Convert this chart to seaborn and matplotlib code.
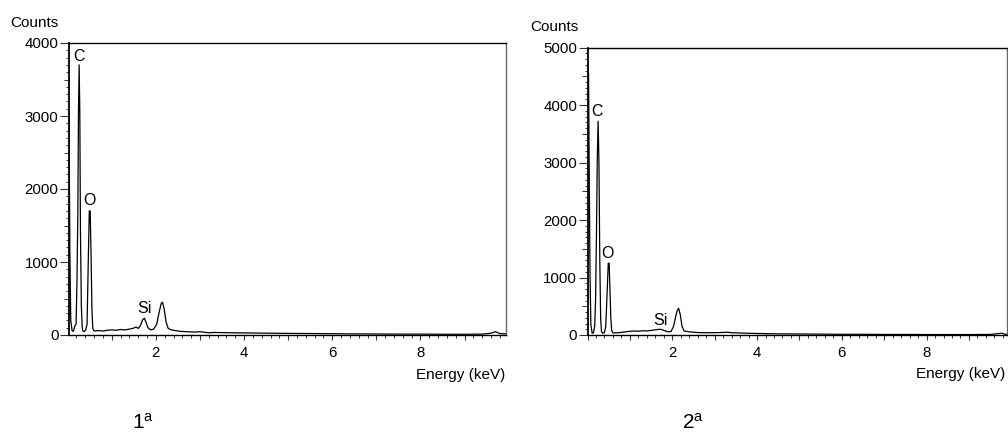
import matplotlib
matplotlib.use("Agg")
import matplotlib.pyplot as plt
import matplotlib.ticker as mticker
import seaborn as sns
import pandas as pd

# ---------------- data ----------------
energy_1 = [0.03, 0.05, 0.07, 0.10, 0.13, 0.16, 0.19, 0.21, 0.23, 0.245, 0.26, 0.275, 0.29, 0.31, 0.33, 0.35,
            0.38, 0.41, 0.44, 0.47, 0.49, 0.51, 0.53, 0.55, 0.57, 0.60,
            0.70, 0.80, 0.90, 1.00, 1.10, 1.20, 1.30, 1.40, 1.50, 1.55, 1.60, 1.65, 1.70, 1.74, 1.78, 1.82,
            1.88, 1.95, 2.02, 2.07, 2.12, 2.15, 2.19, 2.23, 2.28, 2.35, 2.45, 2.55, 2.70, 2.90, 3.00, 3.10,
            3.20, 3.30, 3.50, 3.80, 4.10, 4.50, 5.00, 5.50, 6.00, 6.50, 7.00, 7.50, 8.00, 8.50, 9.00, 9.40,
            9.60, 9.70, 9.80, 9.94]
counts_1 = [3050, 1100, 200, 60, 50, 120, 150, 700, 1650, 3050, 3700, 3050, 1400, 400, 100, 50,
            50, 70, 150, 1100, 1700, 1700, 1100, 350, 90, 55,
            60, 55, 65, 70, 65, 75, 70, 80, 95, 110, 90, 130, 210, 230, 170, 100,
            70, 80, 150, 300, 430, 450, 350, 180, 90, 70, 60, 50, 45, 40, 45, 38,
            30, 35, 33, 30, 28, 25, 22, 20, 18, 15, 14, 12, 12, 10, 10, 12,
            25, 45, 20, 15]

energy_2 = [0.00, 0.025, 0.04, 0.06, 0.08, 0.11, 0.14, 0.17, 0.19, 0.21, 0.23, 0.25, 0.27, 0.29, 0.31, 0.33,
            0.36, 0.40, 0.43, 0.45, 0.47, 0.49, 0.51, 0.53, 0.55, 0.57, 0.60,
            0.70, 0.80, 0.90, 1.00, 1.10, 1.20, 1.30, 1.40, 1.50, 1.60, 1.70, 1.75, 1.80, 1.90, 1.97,
            2.03, 2.08, 2.12, 2.15, 2.19, 2.23, 2.28, 2.40, 2.55, 2.70, 2.90, 3.10, 3.30, 3.40, 3.60, 3.80,
            4.10, 4.50, 5.00, 5.50, 6.00, 6.50, 7.00, 7.50, 8.00, 8.50, 9.00, 9.50, 9.70, 9.77, 9.85, 9.90]
counts_2 = [4550, 4550, 2850, 1000, 175, 30, 40, 150, 600, 1650, 3020, 3720, 3020, 1300, 300, 60,
            30, 40, 150, 500, 870, 1250, 1250, 800, 300, 80, 35,
            40, 45, 55, 65, 70, 65, 75, 70, 80, 90, 100, 95, 80, 55, 60,
            150, 320, 430, 465, 350, 150, 70, 55, 45, 40, 40, 42, 48, 40, 35, 30,
            25, 20, 18, 15, 12, 12, 10, 10, 8, 8, 8, 10, 25, 32, 15, 10]

peak_names = ["C", "O", "Si"]
peak_pos_1 = [(0.25, 3812), (0.49, 1840), (1.73, 358)]
peak_pos_2 = [(0.23, 3890), (0.48, 1423), (1.71, 260)]

ymax_1 = 4000
ymax_2 = 5000
xlim_1 = (0.03, 9.94)
xlim_2 = (0.0, 9.89)
x_labels = [2, 4, 6, 8]
panel_names = ["1$^\\mathregular{a}$", "2$^\\mathregular{a}$"]

# ---------------- style ----------------
sns.set_style("white")
plt.rcParams['font.family'] = ['Liberation Sans', 'DejaVu Sans']
plt.rcParams['mathtext.default'] = 'regular'
plt.rcParams['text.color'] = 'black'
plt.rcParams['xtick.color'] = 'black'
plt.rcParams['ytick.color'] = 'black'
plt.rcParams['axes.labelcolor'] = 'black'

fig = plt.figure(figsize=(10.08, 4.32), dpi=100)
ax1 = fig.add_axes([69/1008, 1-335/432, (506-69)/1008, (335-43)/432])
ax2 = fig.add_axes([587.5/1008, 1-335/432, (1006.7-587.5)/1008, (335-47.7)/432])

FS = 11
TICKC = "#333333"


def style_axis(ax, e, c, ymax, xlim, peaks):
    df = pd.DataFrame({"Energy": e, "Counts": c})
    sns.lineplot(data=df, x="Energy", y="Counts", ax=ax, color="black", lw=0.9,
                 estimator=None, sort=False)
    ax.set_xlim(*xlim)
    ax.set_ylim(0, ymax)
    ax.set_xlabel("")
    ax.set_ylabel("")
    for name, (px, py) in zip(peak_names, peaks):
        ax.text(px, py, name, ha="center", va="center", fontsize=11.5)
    # y ticks
    ax.yaxis.set_major_locator(mticker.MultipleLocator(1000))
    ax.yaxis.set_minor_locator(mticker.MultipleLocator(100))
    ax.tick_params(axis="y", which="major", left=True, direction="out", length=6.5,
                   width=0.8, color=TICKC, labelsize=10.8, pad=1, labelcolor="black")
    ax.tick_params(axis="y", which="minor", left=True, direction="out", length=2.2,
                   width=0.7, color=TICKC)
    sec = ax.secondary_yaxis("left")
    sec.yaxis.set_major_locator(mticker.MultipleLocator(500))
    sec.yaxis.set_major_formatter(mticker.NullFormatter())
    sec.tick_params(axis="y", length=3.8, width=0.7, color=TICKC, direction="out")
    sec.spines["left"].set_visible(False)
    # x ticks
    ax.xaxis.set_major_locator(mticker.MultipleLocator(1))
    ax.xaxis.set_minor_locator(mticker.MultipleLocator(0.2))
    ax.xaxis.set_major_formatter(mticker.FuncFormatter(
        lambda v, p: f"{int(round(v))}" if int(round(v)) in x_labels and abs(v - round(v)) < 1e-6 else ""))
    ax.tick_params(axis="x", which="major", bottom=True, direction="out", length=3.6,
                   width=0.8, color=TICKC, labelsize=10.8, pad=4, labelcolor="black")
    ax.tick_params(axis="x", which="minor", bottom=True, direction="out", length=2.2,
                   width=0.7, color=TICKC)
    for s in ["left", "bottom", "top"]:
        ax.spines[s].set_color("black")
    ax.spines["left"].set_linewidth(1.3)
    ax.spines["bottom"].set_linewidth(1.0)
    ax.spines["top"].set_linewidth(1.0)
    ax.spines["right"].set_color("#666666")
    ax.spines["right"].set_linewidth(1.0)


style_axis(ax1, energy_1, counts_1, ymax_1, xlim_1, peak_pos_1)
style_axis(ax2, energy_2, counts_2, ymax_2, xlim_2, peak_pos_2)

fig.text(10/1008, 1-23/432, "Counts", ha="left", va="center", fontsize=FS)
fig.text(530/1008, 1-27/432, "Counts", ha="left", va="center", fontsize=FS)
fig.text(505/1008, 1-375/432, "Energy (keV)", ha="right", va="center", fontsize=FS)
fig.text(1005/1008, 1-374/432, "Energy (keV)", ha="right", va="center", fontsize=FS)
fig.text(131.7/1008, 1-429/432, panel_names[0], ha="left", va="baseline", fontsize=15)
fig.text(681.7/1008, 1-429/432, panel_names[1], ha="left", va="baseline", fontsize=15)

fig.savefig("out.png", dpi=100)
